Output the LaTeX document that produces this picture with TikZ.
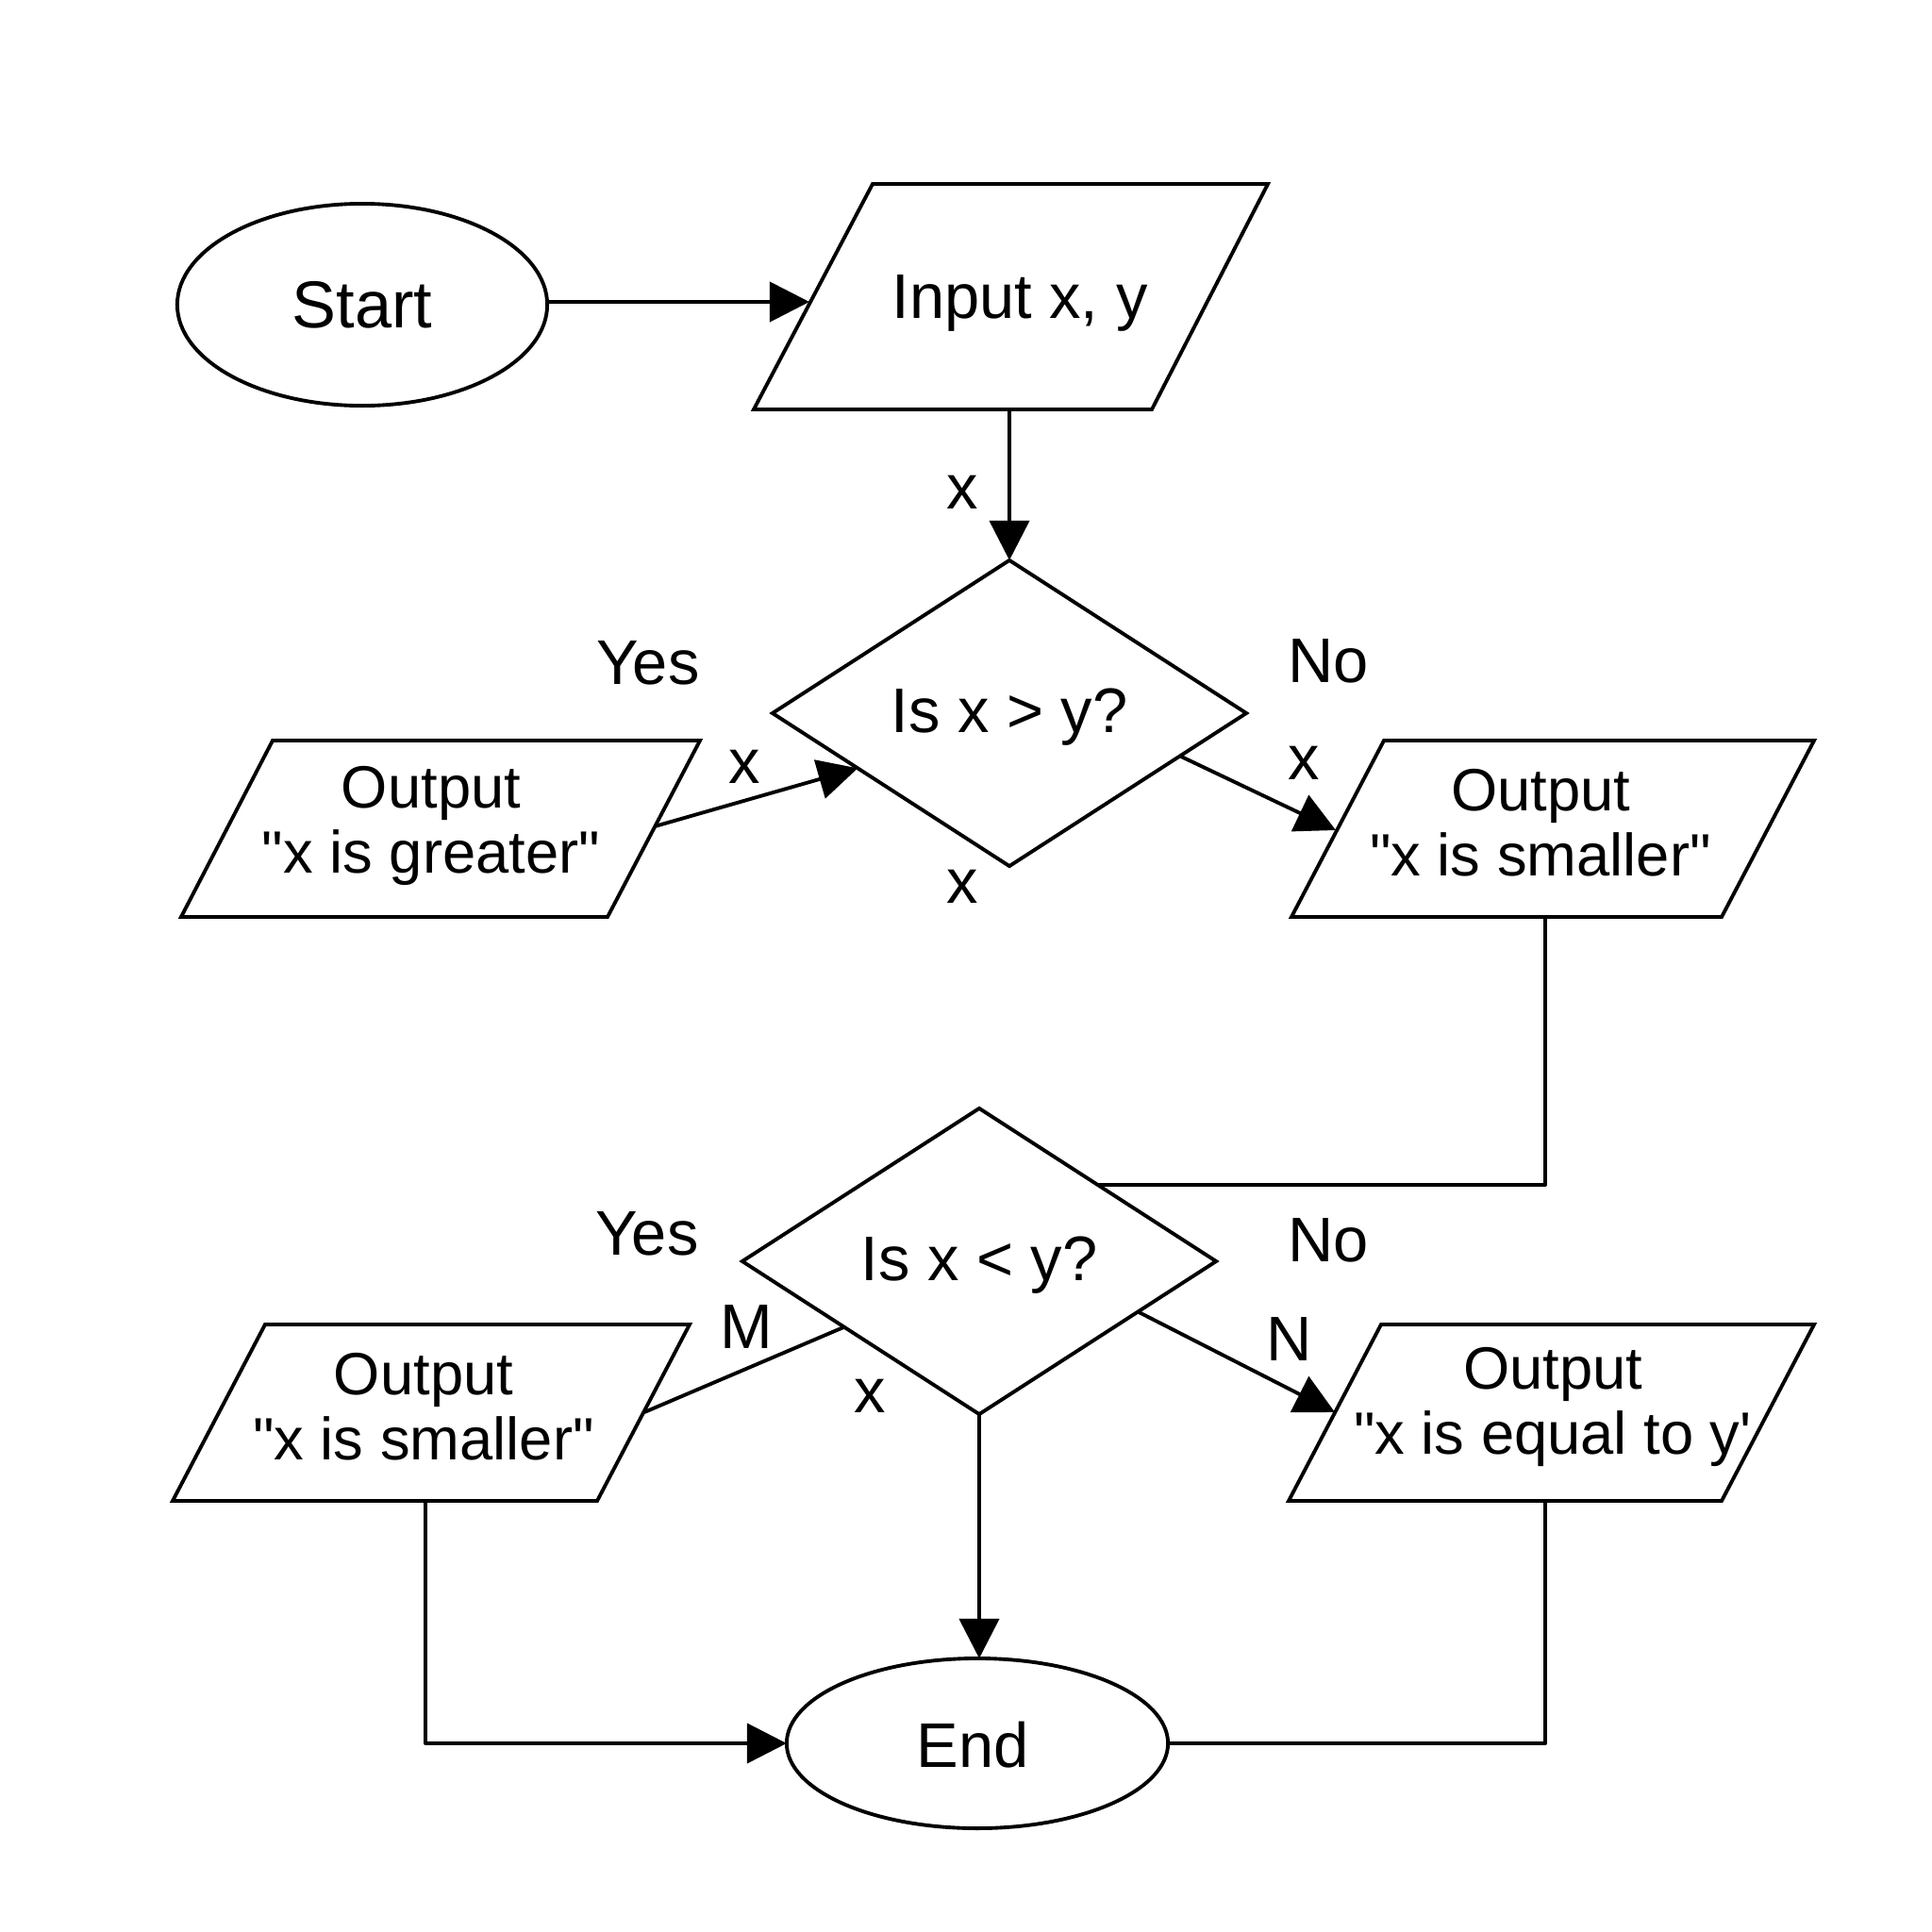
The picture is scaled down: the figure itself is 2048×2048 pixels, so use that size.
\documentclass[tikz,border=0pt]{standalone}
\usepackage{fontspec}
\setmainfont{Liberation Sans}
\usetikzlibrary{shapes.geometric,arrows.meta,calc}
\newcommand{\qq}{\textquotedbl}
\begin{document}
\begin{tikzpicture}[x=0.01cm,y=-0.01cm,
  every node/.style={outer sep=0pt},
  line/.style={line width=1.1pt, line join=round},
  arr/.style={line, -{Triangle[length=0.42cm,width=0.42cm]}},
  shp/.style={draw, line width=1.1pt, line join=miter},
  term/.style={draw, line width=1.1pt, ellipse, font=\fontsize{20}{24}\selectfont},
  dec/.style={draw, line width=1.1pt, diamond, aspect=1.55, inner sep=0pt, minimum width=5.02cm, minimum height=3.24cm, font=\fontsize{19}{23}\selectfont},
  txt/.style={align=center, font=\fontsize{18}{19.6}\selectfont},
  lbl/.style={font=\fontsize{19}{23}\selectfont}
]
\useasboundingbox (0,0) rectangle (2048,2048);
\fill[white] (0,0) rectangle (2048,2048);

% terminals and decisions
\node[term, minimum width=3.92cm, minimum height=2.14cm] (start) at (384,323) {Start};
\node[dec] (d1) at (1070,756) {};
\node[lbl] (d1t) at (1070,760) {Is x > y?};
\node[dec] (d2) at (1038,1337) {};
\node[lbl] (d2t) at (1038,1341) {Is x < y?};
\node[term, minimum width=4.04cm, minimum height=1.80cm] (end) at (1036,1848) {};
\node[lbl] (endt) at (1031,1850) {End};

% parallelograms (input / output)
\draw[shp] (799,434) -- (1221,434) -- (1344,195) -- (925,195) -- cycle;
\coordinate (input-w) at (858,320);
\coordinate (input-s) at (1070,434);
\node[lbl] (input) at (1081,321) {Input x, y};

\draw[shp] (192,972) -- (644,972) -- (742,785) -- (289,785) -- cycle;
\coordinate (out1-e) at (694,876);
\node[txt] (out1) at (457,875) {Output\\\qq x is greater\qq};

\draw[shp] (1369,972) -- (1825,972) -- (1923,785) -- (1467,785) -- cycle;
\coordinate (out2-w) at (1416,880);
\coordinate (out2-s) at (1638,972);
\node[txt] (out2) at (1633,872) {Output\\\qq x is smaller\qq};

\draw[shp] (183,1591) -- (633,1591) -- (731,1404) -- (281,1404) -- cycle;
\coordinate (out3-e) at (683,1497);
\coordinate (out3-s) at (451,1591);
\node[txt] (out3) at (449,1491) {Output\\\qq x is smaller\qq};

\draw[shp] (1366,1591) -- (1825,1591) -- (1923,1404) -- (1464,1404) -- cycle;
\coordinate (out4-w) at (1415,1497);
\coordinate (out4-s) at (1638,1591);
\node[txt] (out4) at (1646,1491) {Output\\\qq x is equal to y\textquotesingle};

% labels
\node[lbl] (lx1) at (1020,522) {x};
\node[lbl] (yes1) at (687,703) {Yes};
\node[lbl] (no1) at (1408,701) {No};
\node[lbl] (lx2) at (789,813) {x};
\node[lbl] (lx3) at (1382,809) {x};
\node[lbl] (lx4) at (1020,940) {x};
\node[lbl] (yes2) at (686,1308) {Yes};
\node[lbl] (no2) at (1408,1315) {No};
\node[lbl] (lm) at (791,1406) {M};
\node[lbl] (lx5) at (922,1480) {x};
\node[lbl] (ln) at (1367,1419) {N};

% connectors
\draw[arr] (start.east |- input-w) -- (input-w);
\draw[arr] (input-s) -- (d1.north);
\draw[arr] (out1-e) -- ($(d1.west)!0.36!(d1.south)$);
\draw[arr] ($(d1.east)!0.28!(d1.south)$) -- (out2-w);
\draw[line] (out2-s) |- ($(d2.north)!0.5!(d2.east)$);
\draw[line] (out3-e) -- ($(d2.west)!0.43!(d2.south)$);
\draw[arr] ($(d2.east)!0.33!(d2.south)$) -- (out4-w);
\draw[arr] (d2.south) -- (d2.south |- end.north);
\draw[arr] (out3-s) |- (end.west);
\draw[line] (out4-s) |- (end.east);
\end{tikzpicture}
\end{document}
